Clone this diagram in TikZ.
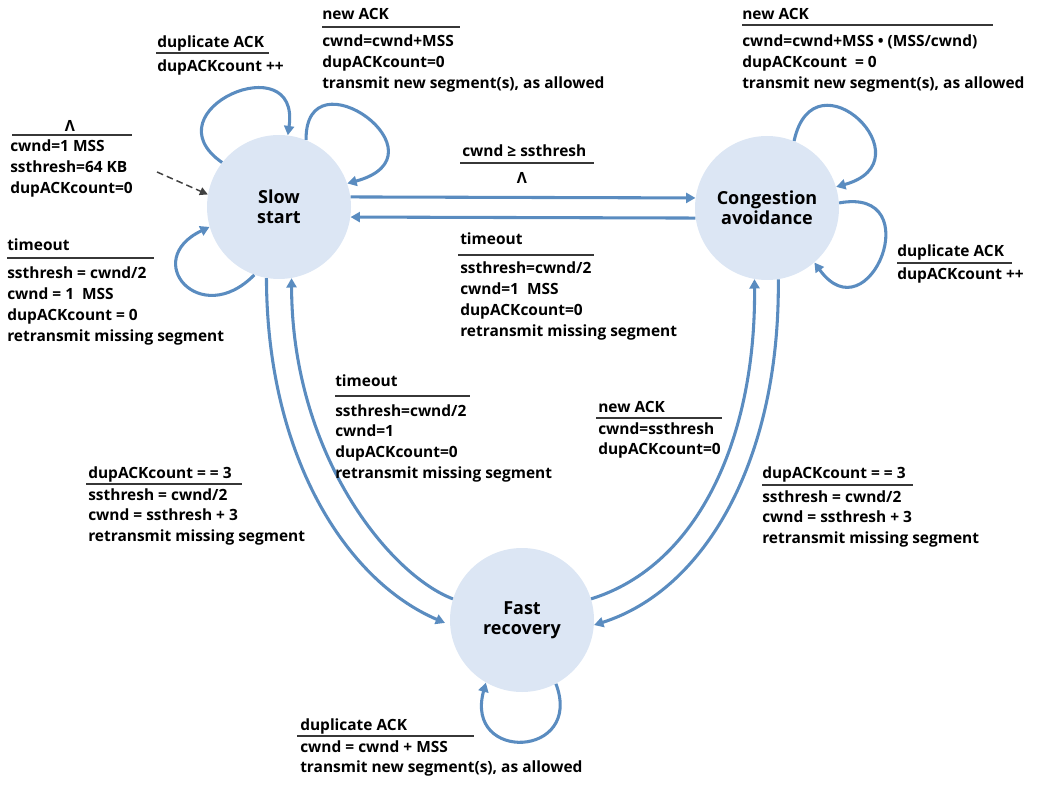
\documentclass[tikz,border=0pt]{standalone}
\usepackage{fontspec}
\setmainfont{Open Sans}
\usetikzlibrary{arrows.meta}
\definecolor{arrowc}{RGB}{90,140,192}
\definecolor{statec}{RGB}{220,230,244}
\definecolor{rulec}{RGB}{55,55,55}
\newcommand\lblfont{\fontsize{11.6}{15.6}\selectfont\bfseries}
\newcommand\statefont{\fontsize{13.5}{15}\selectfont\bfseries}
% name, x, event baseline, event text, rule y, rule x1, rule x2, action baseline, actions
\newcommand\trans[9]{%
  \node[evt] (#1e) at (#2,#3) {#4};
  \draw[rul] (#6,#5) -- (#7,#5);
  \node[act] (#1a) at (#2,#8) {\begin{tabular}[t]{@{}l@{}}#9\end{tabular}};}
\begin{document}
\begin{tikzpicture}[x=0.75pt,y=-0.75pt,
  state/.style={circle, fill=statec, minimum size=108pt, inner sep=0pt, align=center, font=\statefont},
  evt/.style={anchor=base west, inner sep=0pt, font=\lblfont},
  act/.style={anchor=base west, inner sep=0pt, font=\lblfont},
  rul/.style={draw=rulec, line width=1.1pt},
  arr/.style={draw=arrowc, line width=2.3pt, -{Triangle[length=7pt,width=7.5pt]}},
  initarr/.style={draw=black!75, line width=1.1pt, dash pattern=on 5pt off 3pt, -{Triangle[length=6pt,width=6pt]}}
]
\useasboundingbox (0,0) rectangle (1037,787);

% states
\node[state] (ss) at (279,207) {Slow\\start};
\node[state] (ca) at (767,208) {Congestion\\avoidance};
\node[state] (fr) at (522,620) {Fast\\recovery};

% self loops
\draw[arr] (ss.142.7) .. controls (147,110) and (301,44) .. (ss.83.4);
\draw[arr] (ss.68) .. controls (305,50) and (452,155) .. (ss.19);
\draw[arr] (ss.250) .. controls (200,330) and (140,260) .. (ss.196);
\draw[arr] (ca.68.5) .. controls (814,49) and (930,161) .. (ca.17);
\draw[arr] (ca.4) .. controls (930,186) and (869,338) .. (ca.-49);
\draw[arr] (fr.-62) .. controls (584,758) and (464,763) .. (fr.-120);

% transitions between states
\draw[arr] (ss.8) -- (ca.172);
\draw[arr] (ca.188) -- (ss.-8);
\draw[arr, shorten >=4pt] (ss.260) .. controls (267,455) and (345,580) .. (fr.184);
\draw[arr] (fr.163) .. controls (390,575) and (292,455) .. (ss.280);
\draw[arr] (fr.17) .. controls (700,565) and (756,435) .. (ca.260);
\draw[arr] (ca.279) .. controls (780,460) and (705,590) .. (fr.-4);

% initial
\coordinate (init) at (157,172);
\draw[initarr] (init) -- (ss.170);

% labels
\node[evt, anchor=base] (initl) at (70,132) {Λ};
\draw[rul] (12,135) -- (132,135);
\node[act] (inita) at (10,152) {\begin{tabular}[t]{@{}l@{}}cwnd=1 MSS\\ssthresh=64 KB\\dupACKcount=0\end{tabular}};

\trans{ssdup}{157}{48}{duplicate ACK}{53}{156}{269}{72}{dupACKcount ++}
\trans{ssnew}{322}{20}{new ACK}{27}{322}{460}{47}{cwnd=cwnd+MSS\\dupACKcount=0\\transmit new segment(s), as allowed}

\node[evt] (sscae) at (462,157) {cwnd ≥ ssthresh};
\draw[rul] (460,163) -- (594,163);
\node[evt, anchor=base] (sscaa) at (522,184) {Λ};

\trans{cass}{460}{245}{timeout}{255}{458}{594}{274}{ssthresh=cwnd/2\\cwnd=1\ \ MSS\\dupACKcount=0\\retransmit missing segment}
\trans{ssto}{7}{251}{timeout}{258}{7}{154}{279}{ssthresh = cwnd/2\\cwnd = 1\ \ MSS\\dupACKcount = 0\\retransmit missing segment}
\trans{canew}{742}{20}{new ACK}{25}{742}{993}{47}{cwnd=cwnd+MSS • (MSS/cwnd)\\dupACKcount\ \ = 0\\transmit new segment(s), as allowed}
\trans{cadup}{897}{257}{duplicate ACK}{263}{897}{1012}{280}{dupACKcount ++}
\trans{frss}{335}{387}{timeout}{396}{335}{470}{416}{ssthresh=cwnd/2\\cwnd=1\\dupACKcount=0\\retransmit missing segment}
\trans{ssfr}{88}{478}{dupACKcount = = 3}{484}{86}{242}{500}{ssthresh = cwnd/2\\cwnd = ssthresh + 3\\retransmit missing segment}
\trans{frdup}{300}{730}{duplicate ACK}{736}{297}{474}{752}{cwnd = cwnd + MSS\\transmit new segment(s), as allowed}
\trans{frca}{598}{412}{new ACK}{418}{596}{722}{434}{cwnd=ssthresh\\dupACKcount=0}
\trans{cafr}{762}{478}{dupACKcount = = 3}{485}{762}{913}{502}{ssthresh = cwnd/2\\cwnd = ssthresh + 3\\retransmit missing segment}
\end{tikzpicture}
\end{document}
